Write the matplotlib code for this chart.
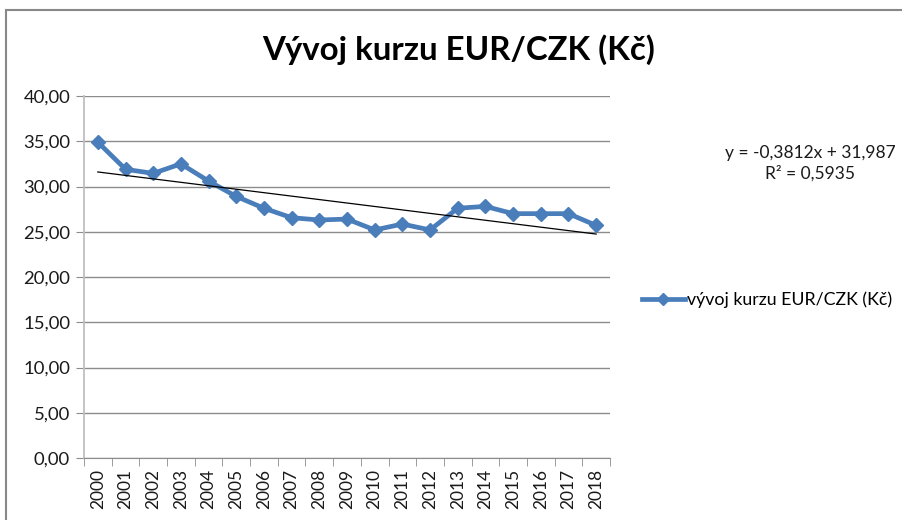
import numpy as np
import matplotlib.pyplot as plt
from matplotlib.ticker import FuncFormatter, FixedLocator

plt.rcParams['font.family'] = ['Lato', 'DejaVu Sans']

years = [str(y) for y in range(2000, 2019)]
rates = [34.9, 31.9, 31.45, 32.5, 30.6, 28.9, 27.6, 26.55, 26.3, 26.4,
         25.2, 25.85, 25.2, 27.6, 27.8, 27.0, 27.0, 27.0, 25.7]
trend_slope = -0.3812
trend_intercept = 31.987
series_label = 'vývoj kurzu EUR/CZK (Kč)'
title = 'Vývoj kurzu EUR/CZK (Kč)'
eq_text = 'y = -0,3812x + 31,987\nR² = 0,5935'

BLUE = '#4a7ebb'

fig = plt.figure(figsize=(9.02, 5.2), dpi=100)
ax = fig.add_axes([84 / 902, 62 / 520, 526 / 902, 362 / 520])

x = np.arange(len(years))
ax.plot(x, rates, color=BLUE, lw=3.4, marker='D', markersize=7.5,
        markerfacecolor=BLUE, markeredgecolor=BLUE, label=series_label, zorder=3)

# linear trend (Excel numbers x = 1..n)
xt = x + 1
ax.plot(x, trend_slope * xt + trend_intercept, color='black', lw=0.9, zorder=4)

ax.set_xlim(-0.5, len(years) - 0.5)
ax.set_ylim(0, 40)
ax.set_yticks(np.arange(0, 41, 5))
ax.yaxis.set_major_formatter(FuncFormatter(lambda v, p: f'{v:.2f}'.replace('.', ',')))
ax.grid(axis='y', color='#8c8c8c', lw=1)
ax.set_axisbelow(True)

ax.set_xticks(x)
ax.set_xticklabels(years, rotation=90, fontsize=12.5, color='#1a1a1a')
ax.xaxis.set_minor_locator(FixedLocator(np.arange(-0.5, len(years), 1)))
ax.tick_params(axis='x', which='major', length=0, pad=8)
ax.tick_params(axis='x', which='minor', length=6, color='#8c8c8c')
ax.tick_params(axis='y', length=6, color='#8c8c8c', labelsize=13.3, labelcolor='#1a1a1a', pad=4)

for s in ['top', 'right']:
    ax.spines[s].set_visible(False)
ax.spines['left'].set_color('#bfbfbf')
ax.spines['left'].set_linewidth(1.3)
ax.spines['bottom'].set_color('#8c8c8c')

fig.text(459 / 902, 1 - 50 / 520, title, ha='center', va='center',
         fontsize=23.8, fontweight='bold')
fig.text(810 / 902, 1 - 163 / 520, eq_text, ha='center', va='center',
         fontsize=12.5, linespacing=1.3, color='#1a1a1a')

ax.legend(loc='center left', bbox_to_anchor=(626 / 902, 1 - 300 / 520),
          bbox_transform=fig.transFigure, frameon=False, fontsize=12.8,
          handlelength=2.4, handletextpad=0.15, markerscale=0.8)

# chart area border
fig.add_artist(plt.Rectangle((6 / 902, -0.1), 1.2, 1 - 10 / 520 + 0.1,
                             transform=fig.transFigure, fill=False,
                             edgecolor='#888888', lw=1.5))

fig.savefig('out.png', dpi=100)
